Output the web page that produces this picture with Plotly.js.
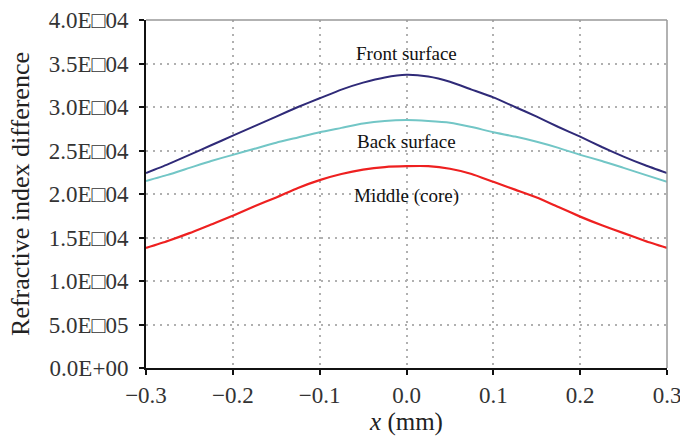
<!DOCTYPE html>
<html>
<head>
<meta charset="utf-8">
<script src="https://cdn.plot.ly/plotly-3.0.1.min.js"></script>
<style>html,body{margin:0;padding:0;background:#fff;}#chart{width:680px;height:443px;}</style>
</head>
<body>
<div id="chart"></div>
<script>
const xPos = [-0.3,-0.275,-0.25,-0.225,-0.2,-0.175,-0.15,-0.125,-0.1,-0.075,-0.05,-0.025,0,0.025,0.05,0.075,0.1,0.125,0.15,0.175,0.2,0.225,0.25,0.275,0.3];
const frontSurface = [2.24,2.34,2.45,2.56,2.67,2.78,2.89,3.00,3.10,3.20,3.28,3.34,3.37,3.35,3.29,3.20,3.11,3.00,2.89,2.77,2.66,2.54,2.43,2.33,2.24].map(v=>v*1e-4);
const backSurface = [2.15,2.22,2.30,2.38,2.45,2.52,2.59,2.65,2.71,2.76,2.81,2.84,2.85,2.84,2.82,2.77,2.71,2.66,2.60,2.53,2.45,2.38,2.30,2.22,2.14].map(v=>v*1e-4);
const middleCore = [1.38,1.46,1.55,1.65,1.75,1.86,1.96,2.07,2.16,2.23,2.28,2.31,2.32,2.32,2.29,2.23,2.14,2.05,1.96,1.85,1.74,1.64,1.55,1.46,1.38].map(v=>v*1e-4);
const yTickVals = [0,0.5e-4,1.0e-4,1.5e-4,2.0e-4,2.5e-4,3.0e-4,3.5e-4,4.0e-4];
const yTickText = ["0.0E+00","5.0E\u25A105","1.0E\u25A104","1.5E\u25A104","2.0E\u25A104","2.5E\u25A104","3.0E\u25A104","3.5E\u25A104","4.0E\u25A104"];
const xTickVals = [-0.3,-0.2,-0.1,0,0.1,0.2,0.3];
const labels = ["Front surface","Back surface","Middle (core)"];
const labelY = [3.62e-4,2.60e-4,1.98e-4];

const serif = "Liberation Serif, Times New Roman, serif";
const lineStyle = (c,w)=>({color:c,width:w,shape:'spline',smoothing:0.5});
const traces = [
  {x:xPos,y:frontSurface,mode:'lines',line:lineStyle('#2f2a78',2),name:labels[0]},
  {x:xPos,y:backSurface,mode:'lines',line:lineStyle('#72c6c6',2),name:labels[1]},
  {x:xPos,y:middleCore,mode:'lines',line:lineStyle('#ee2020',2.2),name:labels[2]}
];
const layout = {
  width:680,height:443,
  margin:{l:146,r:13,t:20,b:75},
  paper_bgcolor:'#fff',plot_bgcolor:'#fff',
  showlegend:false,
  font:{family:serif,color:'#222',size:24},
  xaxis:{range:[-0.3,0.3],tickvals:xTickVals,tickformat:'.1f',ticklabeloverflow:'allow',
    showline:true,linecolor:'#111',linewidth:2,ticks:'outside',ticklen:5,tickcolor:'#111',tickwidth:2,
    showgrid:true,gridcolor:'#b0b0b0',griddash:'2px,5px',gridwidth:2,zeroline:false,
    tickfont:{family:serif,size:23,color:'#333'},
    title:{text:'<i>x</i> (mm)',font:{family:serif,size:25,color:'#222'},standoff:4}},
  yaxis:{range:[0,4.0e-4],tickvals:yTickVals,ticktext:yTickText,ticklabelstandoff:6,
    showline:true,linecolor:'#111',linewidth:2,ticks:'outside',ticklen:5,tickcolor:'#111',tickwidth:2,
    showgrid:true,gridcolor:'#b0b0b0',griddash:'2px,5px',gridwidth:2,zeroline:false,
    tickfont:{family:serif,size:23,color:'#333'},
    title:{text:'Refractive index difference',font:{family:serif,size:26,color:'#222'},standoff:12}},
  shapes:[
    {type:'line',xref:'paper',yref:'paper',x0:0,x1:1,y0:1,y1:1,line:{color:'#999',width:1.5}},
    {type:'line',xref:'paper',yref:'paper',x0:1,x1:1,y0:0,y1:1,line:{color:'#999',width:1.5}}
  ],
  annotations: labels.map((t,i)=>({x:0,y:labelY[i],xref:'x',yref:'y',text:t,showarrow:false,
    font:{family:serif,size:19,color:'#111'},bgcolor:'rgba(255,255,255,0)'}))
};
Plotly.newPlot('chart',traces,layout,{displayModeBar:false,staticPlot:true});
</script>
</body>
</html>
